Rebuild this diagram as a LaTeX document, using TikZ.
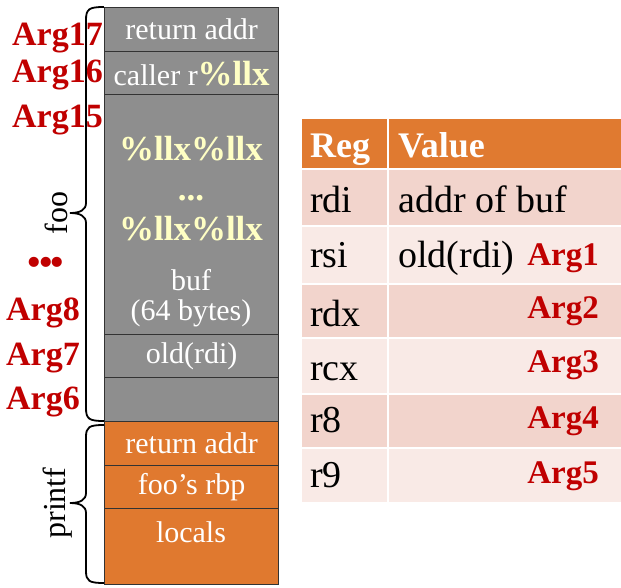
\documentclass[tikz,border=0pt]{standalone}
\usepackage{fontspec}
\setmainfont{Liberation Serif}
\definecolor{stgray}{HTML}{8E8E8E}
\definecolor{storange}{HTML}{E0792F}
\definecolor{hdorange}{HTML}{E07A30}
\definecolor{rowdark}{HTML}{F2D4CC}
\definecolor{rowlight}{HTML}{F9EAE6}
\definecolor{argred}{HTML}{C00000}
\definecolor{fmtyellow}{HTML}{FFFFC4}
\tikzset{
  cellbox/.style={draw=black!80, line width=1.3pt, minimum width=174pt, inner sep=0pt, anchor=north west, text=white, font=\fontsize{30}{32}\selectfont},
  tcell/.style={draw=white, line width=2pt, inner sep=0pt, anchor=north west},
  argleft/.style={anchor=base east, text=argred, font=\bfseries\fontsize{34}{36}\selectfont, inner sep=0pt},
  argtab/.style={anchor=base east, text=argred, font=\bfseries\fontsize{33}{35}\selectfont, inner sep=0pt},
  fmt/.style={text=fmtyellow, font=\bfseries\fontsize{35}{40}\selectfont, inner sep=0pt, align=center},
  stxt/.style={text=white, font=\fontsize{30}{30}\selectfont, inner sep=0pt, align=center},
  ttxt/.style={anchor=base west, font=\fontsize{38}{40}\selectfont, inner sep=0pt},
  htxt/.style={anchor=base west, text=white, font=\bfseries\fontsize{36}{38}\selectfont, inner sep=0pt},
  bracelab/.style={rotate=90, font=\fontsize{32}{34}\selectfont, inner sep=0pt},
  bracepath/.style={line width=1.8pt, black}
}
\begin{document}
\begin{tikzpicture}[x=1pt,y=-1pt]
\useasboundingbox (0,0) rectangle (621,587);
% stack
\node[cellbox, fill=stgray, minimum height=44pt] (s1) at (104,7) {return addr};
\node[cellbox, fill=stgray, minimum height=43pt] (s2) at (104,51) {caller r\textcolor{fmtyellow}{\bfseries\fontsize{35}{37}\selectfont\%llx}};
\node[cellbox, fill=stgray, minimum height=240pt] (s3) at (104,94) {};
\node[cellbox, fill=stgray, minimum height=43pt] (s4) at (104,334) {old(rdi)};
\node[cellbox, fill=stgray, minimum height=44pt] (s5) at (104,377) {};
\node[cellbox, fill=storange, minimum height=44pt] (s6) at (104,421) {return addr};
\node[cellbox, fill=storange, minimum height=43pt] (s7) at (104,465) {foo’s rbp};
\node[cellbox, fill=storange, minimum height=76pt] (s8) at (104,508) {};
\node[stxt] (loc) at (191,532) {locals};
% buf contents
\node[fmt] (fmts) at (191,188.5) {\%llx\%llx\\...\\\%llx\%llx};
\node[stxt] (bufl) at (191,298) {buf\\(64 bytes)};
% braces
\draw[bracepath] (104,7) .. controls (89,7) and (86,9) .. (86,20) -- (86,203)
  .. controls (86,210) and (80,213) .. (70,213)
  .. controls (80,213) and (86,216) .. (86,223) -- (86,408)
  .. controls (86,419) and (89,421) .. (104,421);
\draw[bracepath] (104,425) .. controls (89,425) and (86,427) .. (86,437) -- (86,493)
  .. controls (86,500) and (80,503) .. (70,503)
  .. controls (80,503) and (86,506) .. (86,513) -- (86,571)
  .. controls (86,581) and (89,583) .. (104,583);
\node[bracelab] (foo) at (56,213) {foo};
\node[bracelab] (printf) at (58,503) {printf};
% left arg labels
\node[anchor=base, text=argred, font=\bfseries\fontsize{62}{64}\selectfont, inner sep=0pt] (dots) at (46,266) {.\kern-4pt.\kern-4pt.};
\node[argleft] (a17) at (103,45) {Arg17};
\node[argleft] (a16) at (103,82) {Arg16};
\node[argleft] (a15) at (103,127) {Arg15};
\node[argleft] (a8) at (80,320) {Arg8};
\node[argleft] (a7) at (80,365) {Arg7};
\node[argleft] (a6) at (80,409) {Arg6};
% table
\node[tcell, fill=hdorange, minimum width=87pt, minimum height=51pt] (h1) at (300,117) {};
\node[tcell, fill=hdorange, minimum width=234pt, minimum height=51pt] (h2) at (387,117) {};
\node[tcell, fill=rowdark, minimum width=87pt, minimum height=57pt] (c11) at (300,168) {};
\node[tcell, fill=rowdark, minimum width=234pt, minimum height=57pt] (c12) at (387,168) {};
\node[tcell, fill=rowlight, minimum width=87pt, minimum height=58pt] (c21) at (300,225) {};
\node[tcell, fill=rowlight, minimum width=234pt, minimum height=58pt] (c22) at (387,225) {};
\node[tcell, fill=rowdark, minimum width=87pt, minimum height=54pt] (c31) at (300,283) {};
\node[tcell, fill=rowdark, minimum width=234pt, minimum height=54pt] (c32) at (387,283) {};
\node[tcell, fill=rowlight, minimum width=87pt, minimum height=56pt] (c41) at (300,337) {};
\node[tcell, fill=rowlight, minimum width=234pt, minimum height=56pt] (c42) at (387,337) {};
\node[tcell, fill=rowdark, minimum width=87pt, minimum height=54pt] (c51) at (300,393) {};
\node[tcell, fill=rowdark, minimum width=234pt, minimum height=54pt] (c52) at (387,393) {};
\node[tcell, fill=rowlight, minimum width=87pt, minimum height=55pt] (c61) at (300,447) {};
\node[tcell, fill=rowlight, minimum width=234pt, minimum height=55pt] (c62) at (387,447) {};
\node[htxt] (hreg) at (310,157) {Reg};
\node[htxt] (hval) at (398,157) {Value};
\node[ttxt] (t1) at (310,212) {rdi};
\node[ttxt] (v1) at (398,212) {addr of buf};
\node[ttxt] (t2) at (310,267) {rsi};
\node[ttxt] (v2) at (398,267) {old(rdi)};
\node[argtab] (g1) at (599,265) {Arg1};
\node[ttxt] (t3) at (310,326) {rdx};
\node[argtab] (g2) at (599,318) {Arg2};
\node[ttxt] (t4) at (310,380) {rcx};
\node[argtab] (g3) at (599,372) {Arg3};
\node[ttxt] (t5) at (310,432) {r8};
\node[argtab] (g4) at (599,428) {Arg4};
\node[ttxt] (t6) at (310,487) {r9};
\node[argtab] (g5) at (599,483) {Arg5};
\end{tikzpicture}
\end{document}
